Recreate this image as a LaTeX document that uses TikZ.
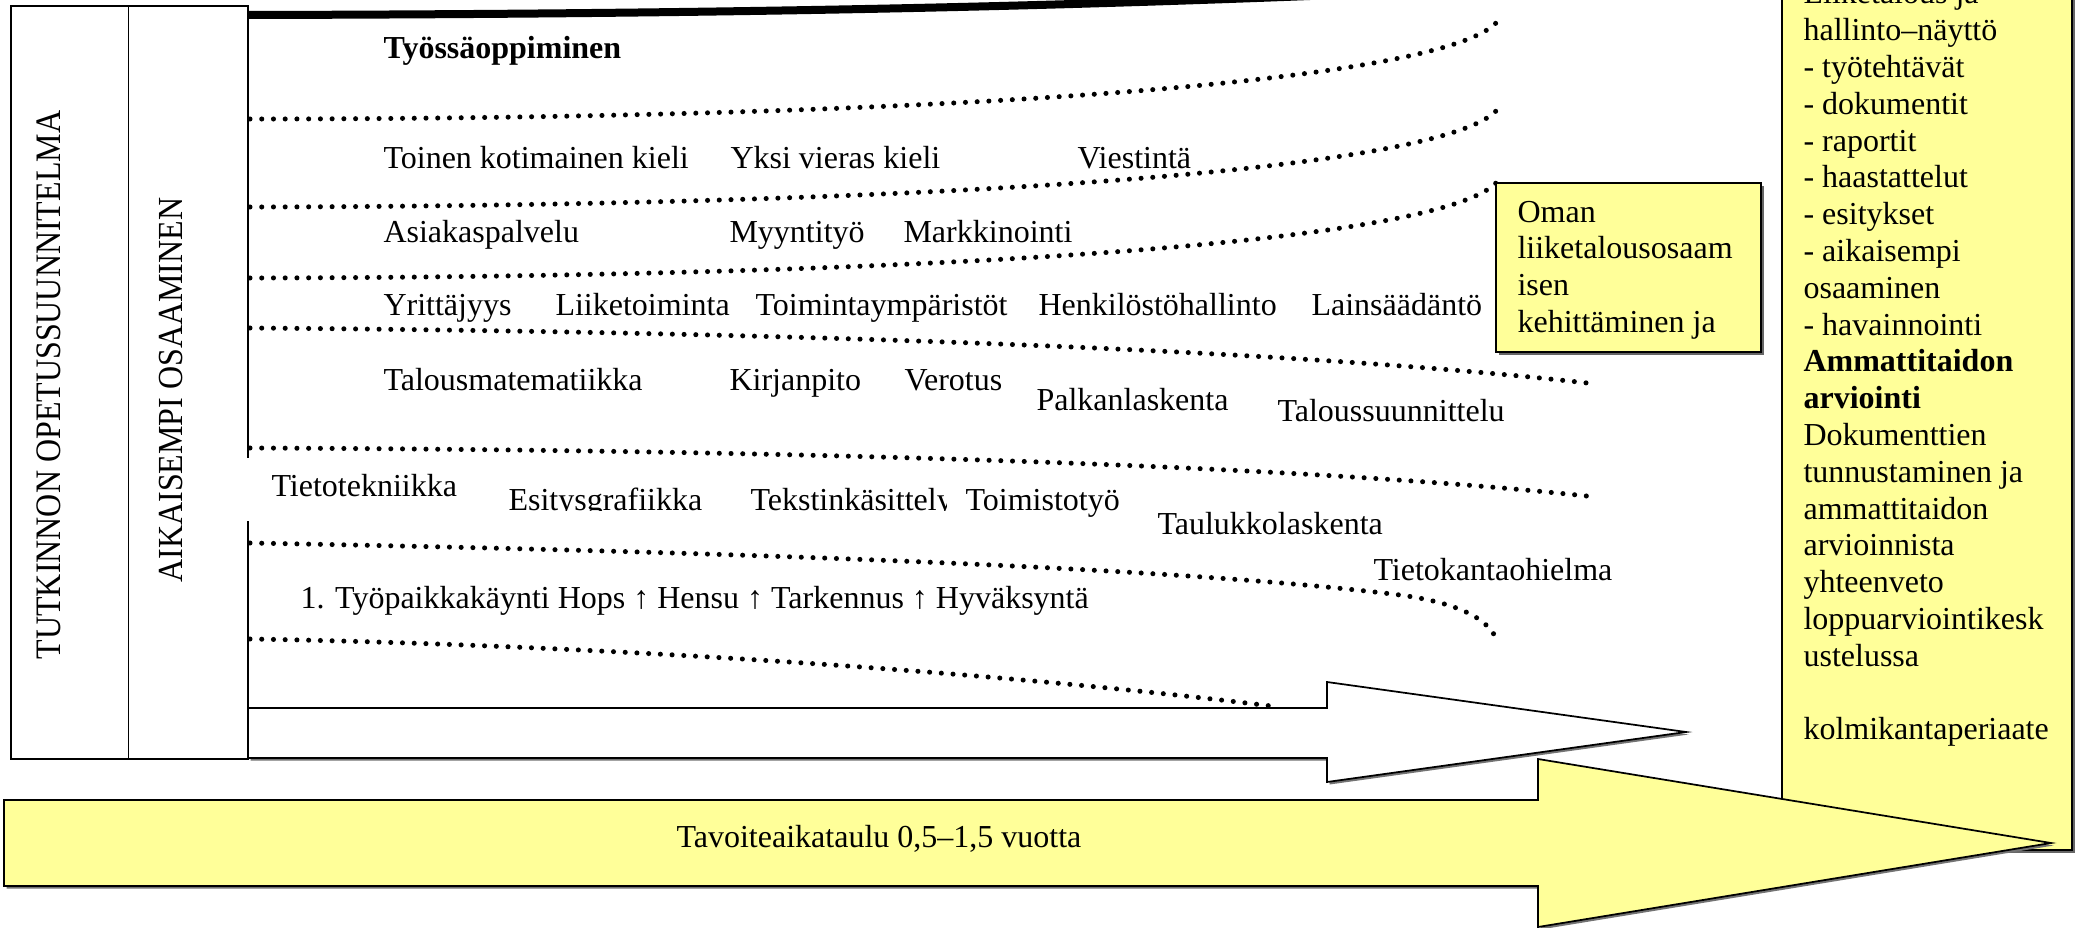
\documentclass[tikz,border=0pt]{standalone}
\usepackage{fontspec}
\setmainfont{Liberation Serif}
\definecolor{ylw}{RGB}{255,255,153}
\begin{document}
\begin{tikzpicture}[x=0.375pt,y=-0.375pt,
  txt/.style={anchor=base west, inner sep=0pt, font=\fontsize{12}{13.8}\selectfont},
  vtxt/.style={rotate=90, inner sep=0pt, font=\fontsize{12}{13.8}\selectfont},
  dotline/.style={line width=1.9pt, line cap=round, dash pattern=on 0pt off 4.4pt},
  frame/.style={draw=black, line width=0.65pt},
  shade/.style={fill=black!60},
]
\useasboundingbox (0,0) rectangle (2078,928);
\clip (0,0) rectangle (2078,928);
\fill[white] (0,0) rectangle (2078,928);

% thick top curve
\draw[line width=3pt] (248,15) .. controls (700,14) and (1000,8) .. (1310,-4);

% dotted separators
\draw[dotline] (250,119) .. controls (900,119) and (1440,85) .. (1497,22);
\draw[dotline] (250,207) .. controls (900,206) and (1440,173) .. (1497,110);
\draw[dotline] (250,278) .. controls (900,277) and (1440,245) .. (1497,182);
\draw[dotline] (250,328) .. controls (800,332) and (1300,350) .. (1596,384);
\draw[dotline] (250,448) .. controls (800,450) and (1300,465) .. (1596,497);
\draw[dotline] (250,543) .. controls (800,553) and (1200,570) .. (1400,595)
                         .. controls (1460,603) and (1490,620) .. (1497,641);
\draw[dotline] (250,639) .. controls (600,645) and (1000,672) .. (1279,707);

% left box
\draw[frame, line width=0.75pt] (10.5,6) rectangle (248,759);
\draw[frame] (128.5,6) -- (128.5,759);
\fill[white] (245,458) rectangle (252,521);
\node[vtxt] (tops) at (49,385) {\scalebox{1}[1.12]{TUTKINNON OPETUSSUUNNITELMA}};
\node[vtxt] (aik) at (171,390) {\scalebox{1}[1.1]{AIKAISEMPI OSAAMINEN}};

% row texts
\node[txt] (tyo) at (383,58) {\bfseries Työssäoppiminen};
\node[txt] (toinen) at (383,168) {Toinen kotimainen kieli};
\node[txt] (yksi) at (730,168) {Yksi vieras kieli};
\node[txt] (viest) at (1077,168) {Viestintä};
\node[txt] (asiak) at (383,242) {Asiakaspalvelu};
\node[txt] (myynti) at (729,242) {Myyntityö};
\node[txt] (markk) at (903,242) {Markkinointi};
\node[txt] (yritt) at (383,315) {Yrittäjyys};
\node[txt] (liike) at (555,315) {Liiketoiminta};
\node[txt] (toimi) at (755,315) {Toimintaympäristöt};
\node[txt] (henk) at (1038,315) {Henkilöstöhallinto};
\node[txt] (laki) at (1311,315) {Lainsäädäntö};
\node[txt] (talmat) at (383,390) {Talousmatematiikka};
\node[txt] (kirja) at (729,390) {Kirjanpito};
\node[txt] (vero) at (904,390) {Verotus};
\node[txt] (palkka) at (1036,410) {Palkanlaskenta};
\node[txt] (talsuun) at (1277,421) {Taloussuunnittelu};
\node[txt] (tieto) at (271,496) {Tietotekniikka};
\begin{scope}
  \clip (500,470) rectangle (740,510.5);
  \node[txt] (esgr) at (508,510) {Esitysgrafiikka};
\end{scope}
\begin{scope}
  \clip (740,470) rectangle (946,510.5);
  \node[txt] (teks) at (750,510) {Tekstinkäsittely};
\end{scope}
\node[txt] (toimisto) at (965,510) {Toimistotyö};
\node[txt] (taulu) at (1157,534) {Taulukkolaskenta};
\node[txt] (tkanta) at (1373,580) {Tietokantaohielma};
\node[txt] (polku) at (300,608) {1. Työpaikkakäynti Hops ↑ Hensu ↑ Tarkennus ↑ Hyväksyntä};

% white arrow
\begin{scope}[shift={(2.5,2.5)}]
  \fill[black!55] (248,708) -- (1327,708) -- (1327,682) -- (1686,732) -- (1327,782) -- (1327,758) -- (248,758) -- cycle;
\end{scope}
\draw[frame, fill=white] (248,708) -- (1327,708) -- (1327,682) -- (1686,732) -- (1327,782) -- (1327,758) -- (248,758) -- cycle;

% small yellow box
\fill[shade] (1499,186) rectangle (1764,355);
\draw[frame, fill=ylw] (1496,183) rectangle (1761,352);
\node[txt] (oman) at (1517,222) {\parbox[t]{110pt}{\raggedright Oman\\liiketalousosaam\\isen\\kehittäminen ja}};

% right yellow box
\fill[shade] (1785,-10) rectangle (2075,853);
\draw[frame, fill=ylw] (1782,-12) rectangle (2072,850);
\node[txt] (naytto) at (1803,4) {\parbox[t]{110pt}{\raggedright
Liiketalous ja\\
hallinto–näyttö\\
- työtehtävät\\
- dokumentit\\
- raportit\\
- haastattelut\\
- esitykset\\
- aikaisempi\\
osaaminen\\
- havainnointi\\
\textbf{Ammattitaidon}\\
\textbf{arviointi}\\
Dokumenttien\\
tunnustaminen ja\\
ammattitaidon\\
arvioinnista\\
yhteenveto\\
loppuarviointikesk\\
ustelussa\\[13.8pt]
kolmikantaperiaate}};

% big yellow arrow
\begin{scope}[shift={(2.5,2.5)}]
  \fill[black!55] (4,800) -- (1538,800) -- (1538,759) -- (2051,843) -- (1538,927) -- (1538,886) -- (4,886) -- cycle;
\end{scope}
\draw[frame, fill=ylw] (4,800) -- (1538,800) -- (1538,759) -- (2051,843) -- (1538,927) -- (1538,886) -- (4,886) -- cycle;
\node[txt] (tavo) at (676,847) {Tavoiteaikataulu 0,5–1,5 vuotta};
\end{tikzpicture}
\end{document}
